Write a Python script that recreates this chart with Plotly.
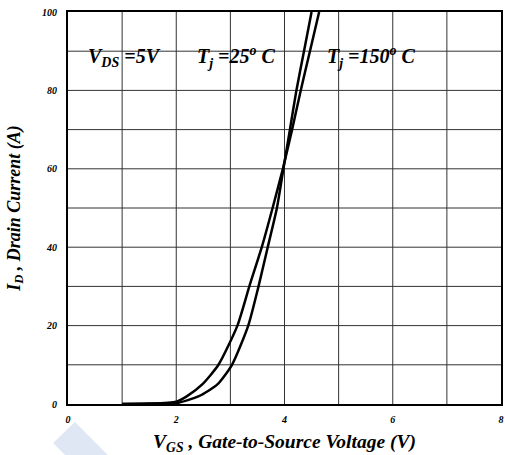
import plotly.graph_objects as go

# Data
vgs_25 = [1.0, 1.5, 2.0, 2.42, 2.76, 3.03, 3.33, 3.52, 3.69, 3.86, 3.98, 4.10, 4.22, 4.36, 4.50]
id_25 = [0.0, 0.05, 0.2, 2, 5, 10, 20, 30, 40, 50, 60, 70, 80, 90, 100]
vgs_150 = [1.0, 1.5, 2.0, 2.2, 2.48, 2.78, 3.13, 3.35, 3.58, 3.78, 3.97, 4.14, 4.30, 4.47, 4.64]
id_150 = [0.0, 0.1, 0.6, 2, 5, 10, 20, 30, 40, 50, 60, 70, 80, 90, 100]

x_ticks = [0, 2, 4, 6, 8]
y_ticks = [0, 20, 40, 60, 80, 100]

W, H = 505, 455
L, R, T, B = 68, 2, 12, 51
pw, ph = W - L - R, H - T - B

SERIF = "Liberation Serif, Times New Roman, serif"

fig = go.Figure()
for xs, ys in [(vgs_25, id_25), (vgs_150, id_150)]:
    fig.add_trace(go.Scatter(x=xs, y=ys, mode="lines",
                             line=dict(color="black", width=2.5, shape="spline", smoothing=0.6),
                             showlegend=False, hoverinfo="skip"))

tickfont = dict(family=SERIF, size=10, color="black", weight="bold", style="italic")
xtitlefont = dict(family=SERIF, size=19.5, color="black", weight="bold", style="italic")
ytitlefont = dict(family=SERIF, size=18, color="black", weight="bold", style="italic")

fig.update_xaxes(range=[0, 8], tickvals=x_ticks, ticktext=[str(v) for v in x_ticks],
                 showgrid=False, zeroline=False,
                 showline=True, mirror=True, linecolor="black", linewidth=2,
                 tickfont=tickfont, ticks="", ticklabelstandoff=5,
                 title=dict(text="V<sub>GS</sub> , Gate-to-Source Voltage (V)", font=xtitlefont, standoff=10))
fig.update_yaxes(range=[0, 100], tickvals=y_ticks, ticktext=[str(v) for v in y_ticks],
                 showgrid=False, zeroline=False,
                 showline=True, mirror=True, linecolor="black", linewidth=2,
                 tickfont=tickfont, ticks="", ticklabelstandoff=7,
                 title=dict(text="I<sub>D</sub> , Drain Current (A)", font=ytitlefont, standoff=17))

# grid every 1 V and 10 A
shapes = []
for v in range(1, 8):
    shapes.append(dict(type="line", xref="x", yref="y", x0=v, x1=v, y0=0, y1=100,
                       line=dict(color="#333", width=1), layer="below"))
for v in range(10, 100, 10):
    shapes.append(dict(type="line", xref="x", yref="y", x0=0, x1=8, y0=v, y1=v,
                       line=dict(color="#333", width=1), layer="below"))

# watermark
def px(xp, yp):
    return (xp - L) / pw, (H - B - yp) / ph
pts = [px(75, 422), px(108, 455), px(65, 455), px(53, 443)]
path = "M " + " L ".join(f"{a},{b}" for a, b in pts) + " Z"
shapes.append(dict(type="path", xref="paper", yref="paper", path=path,
                   fillcolor="#dfe6f4", line=dict(width=0), layer="below"))
fig.update_layout(shapes=shapes)

annfont = dict(family=SERIF, size=20, color="black", weight="bold", style="italic")
for text, x in [("V<sub>DS</sub> =5V", 0.33), ("T<sub>j</sub> =25<sup>o</sup> C", 2.35),
                ("T<sub>j</sub> =150<sup>o</sup> C", 4.75)]:
    fig.add_annotation(x=x, y=88.5, xref="x", yref="y", text=text, showarrow=False,
                       xanchor="left", yanchor="middle", font=annfont)

fig.update_layout(width=W, height=H, margin=dict(l=L, r=R, t=T, b=B),
                  plot_bgcolor="white", paper_bgcolor="white")

fig.write_html("out.html")
